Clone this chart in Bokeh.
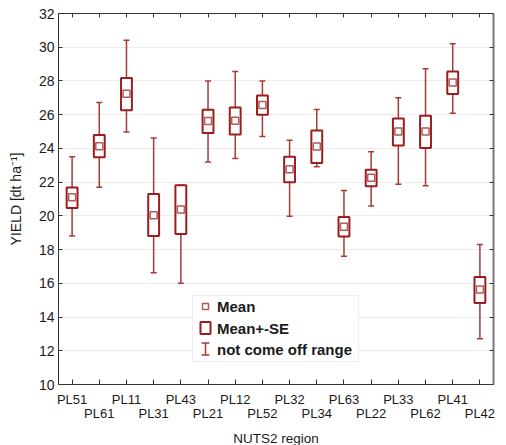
from bokeh.plotting import figure
from bokeh.models import Range1d, FixedTicker, LinearAxis, Label, BoxAnnotation
from bokeh.embed import file_html
from bokeh.resources import INLINE

# ---- data ----
regions = ["PL51", "PL61", "PL11", "PL31", "PL43", "PL21", "PL12", "PL52",
           "PL32", "PL34", "PL63", "PL22", "PL33", "PL62", "PL41", "PL42"]
means = [21.10, 24.13, 27.24, 20.04, 20.38, 25.62, 25.64, 26.58,
         22.77, 24.11, 19.35, 22.26, 25.00, 25.00, 27.91, 15.63]
se_low = [20.46, 23.48, 26.27, 18.80, 18.93, 24.91, 24.83, 25.99,
          22.00, 23.13, 18.77, 21.76, 24.17, 24.02, 27.22, 14.84]
se_high = [21.68, 24.79, 28.17, 21.29, 21.82, 26.29, 26.43, 27.14,
           23.50, 25.06, 19.93, 22.73, 25.77, 25.93, 28.56, 16.38]
range_low = [18.80, 21.70, 24.98, 16.62, 16.00, 23.20, 23.40, 24.71,
             19.98, 22.91, 17.60, 20.58, 21.88, 21.78, 26.09, 12.71]
range_high = [23.50, 26.72, 30.42, 24.61, 21.82, 28.00, 28.56, 27.99,
              24.49, 26.31, 21.51, 23.80, 27.00, 28.72, 30.20, 18.30]
y_ticks = [10, 12, 14, 16, 18, 20, 22, 24, 26, 28, 30, 32]
legend_labels = ["Mean", "Mean+-SE", "not come off range"]

FONT = "Liberation Sans"
BOX_COLOR = "#9b1d1d"
WHISK_COLOR = "#a83a3a"
MEAN_COLOR = "#b05a5a"
TXT = "#1a1a1a"

FW, FH = 435, 371
X0, X1 = -0.5, len(regions) - 0.5
Y0, Y1 = 10, 32

xs = list(range(len(regions)))

p = figure(frame_width=FW, frame_height=FH,
           x_range=Range1d(X0, X1), y_range=Range1d(Y0, Y1),
           output_backend="svg", toolbar_location=None,
           min_border_left=58, min_border_top=13, min_border_right=5,
           min_border_bottom=5, background_fill_color="white",
           border_fill_color="white")
p.outline_line_color = None
p.xgrid.visible = False
p.ygrid.ticker = FixedTicker(ticks=y_ticks)
p.ygrid.grid_line_color = "#ececec"
p.ygrid.grid_line_width = 1

# bottom axis (first row of labels + inward ticks)
xa = p.below[0]
xa.ticker = FixedTicker(ticks=xs)
xa.major_label_overrides = {i: (regions[i] if i % 2 == 0 else "") for i in xs}
xa.major_tick_in = 5
xa.major_tick_out = 0
xa.minor_tick_line_color = None
xa.major_label_standoff = 7
xa.major_label_text_font = FONT
xa.major_label_text_font_size = "13px"
xa.major_label_text_color = TXT
xa.axis_line_color = "#333333"
xa.major_tick_line_color = "#333333"

# second row of labels
xa2 = LinearAxis(ticker=FixedTicker(ticks=[i for i in xs if i % 2 == 1]),
                 major_label_overrides={i: regions[i] for i in xs if i % 2 == 1},
                 axis_line_color=None, major_tick_line_color=None,
                 minor_tick_line_color=None, major_tick_in=0, major_tick_out=0,
                 major_label_standoff=-4,
                 major_label_text_font=FONT, major_label_text_font_size="13px",
                 major_label_text_color=TXT,
                 axis_label="NUTS2 region", axis_label_standoff=7,
                 axis_label_text_font=FONT, axis_label_text_font_size="13.5px",
                 axis_label_text_font_style="normal", axis_label_text_color=TXT)
p.add_layout(xa2, "below")

# left axis
ya = p.left[0]
ya.ticker = FixedTicker(ticks=y_ticks)
ya.major_tick_in = 4
ya.major_tick_out = 0
ya.minor_tick_line_color = None
ya.major_label_standoff = 4
ya.major_label_text_font = FONT
ya.major_label_text_font_size = "14px"
ya.major_label_text_color = TXT
ya.axis_line_color = "#333333"
ya.major_tick_line_color = "#333333"
ya.axis_label = "YIELD [dt ha\u207b\u00b9]"
ya.axis_label_text_font = FONT
ya.axis_label_text_font_size = "14px"
ya.axis_label_text_font_style = "normal"
ya.axis_label_text_color = TXT
ya.axis_label_standoff = 12

# top axis (ticks only)
top = LinearAxis(ticker=FixedTicker(ticks=xs), major_tick_in=4, major_tick_out=0,
                 minor_tick_line_color=None, major_label_text_font_size="11px",
                 major_label_overrides={i: "" for i in xs},
                 major_label_standoff=0, axis_line_color="#333333",
                 major_tick_line_color="#333333")
p.add_layout(top, "above")

# right axis (ticks only)
right = LinearAxis(ticker=FixedTicker(ticks=y_ticks), major_tick_in=4, major_tick_out=0,
                   minor_tick_line_color=None, major_label_text_font_size="11px",
                   major_label_overrides={t: "" for t in y_ticks},
                   major_label_standoff=0, axis_line_color="#7a7a7a",
                   axis_line_width=2, major_tick_line_color="#333333")
p.add_layout(right, "right")

# ---- data marks ----
cap = 3 * (X1 - X0) / FW  # half cap width, 3 px
p.segment(x0=xs, y0=range_low, x1=xs, y1=range_high,
          line_color=WHISK_COLOR, line_width=1.5)
p.segment(x0=[x - cap for x in xs], y0=range_high, x1=[x + cap for x in xs], y1=range_high,
          line_color=WHISK_COLOR, line_width=1.5)
p.segment(x0=[x - cap for x in xs], y0=range_low, x1=[x + cap for x in xs], y1=range_low,
          line_color=WHISK_COLOR, line_width=1.5)
p.vbar(x=xs, width=0.4, bottom=se_low, top=se_high, fill_color="white",
       line_color=BOX_COLOR, line_width=2)
p.scatter(x=xs, y=means, marker="square", size=7, fill_color="white",
          line_color=MEAN_COLOR, line_width=1.5)

# ---- legend (layout in frame pixels -> data) ----
def dx(px):
    return X0 + px * (X1 - X0) / FW

def dy(py):
    return Y1 - py * (Y1 - Y0) / FH

p.add_layout(BoxAnnotation(left=dx(134), right=dx(300), top=dy(282), bottom=dy(348),
                           fill_color="white", fill_alpha=1.0, line_color="#c8c8c8",
                           line_width=1, level="underlay"))
icon_x = 147
rows = [293, 314.5, 335.5]
p.scatter(x=[dx(icon_x)], y=[dy(rows[0])], marker="square", size=6, fill_color="white",
          line_color=MEAN_COLOR, line_width=1.5)
p.rect(x=[dx(icon_x)], y=[dy(rows[1])], width=10, height=12, width_units="screen",
       height_units="screen", fill_color="white", line_color=BOX_COLOR, line_width=2)
p.segment(x0=[dx(icon_x)], y0=[dy(rows[2] - 6)], x1=[dx(icon_x)], y1=[dy(rows[2] + 6)],
          line_color=WHISK_COLOR, line_width=1.5)
p.segment(x0=[dx(icon_x - 4)] * 2, y0=[dy(rows[2] - 6), dy(rows[2] + 6)],
          x1=[dx(icon_x + 4)] * 2, y1=[dy(rows[2] - 6), dy(rows[2] + 6)],
          line_color=WHISK_COLOR, line_width=1.5)
for lab, r in zip(legend_labels, rows):
    p.add_layout(Label(x=dx(158.5), y=dy(r), text=lab, text_font=FONT,
                       text_font_size="15px", text_font_style="bold",
                       text_baseline="middle", text_color=TXT))

open("out.html", "w").write(file_html(p, INLINE))
